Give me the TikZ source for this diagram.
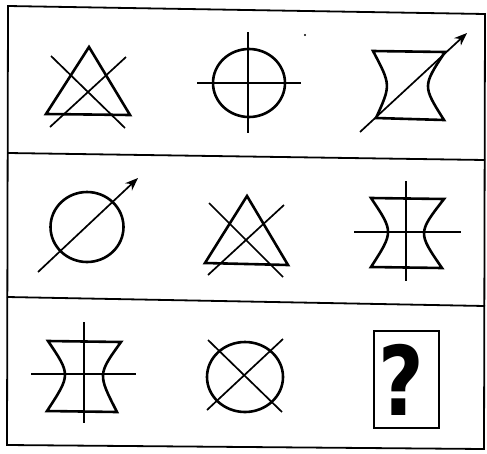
\documentclass[tikz,border=0pt]{standalone}
\usepackage{fontspec}
\setmainfont{Liberation Sans}
\newfontfamily\qfont{DejaVu Sans}
\usetikzlibrary{arrows.meta}
\begin{document}
\begin{tikzpicture}[x=1pt,y=-1pt,
  frame/.style={line width=1.8pt},
  thickline/.style={line width=2.6pt, line join=miter},
  thinline/.style={line width=1.7pt},
  arrowline/.style={line width=1.7pt, -{Stealth[length=13pt,width=10pt]}}]
\useasboundingbox (0,0) rectangle (487,453);
% frame
\draw[frame] (8,6) -- (485,14) -- (484,449) -- (7,445) -- cycle;
\draw[frame] (8,153) -- (485,160);
\draw[frame] (7,297) -- (485,306);
% speck
\fill (305,35) circle (1.1);
% row 1, cell 1: triangle with cross
\draw[thickline] (89,47) -- (130,115) -- (46,114) -- cycle;
\draw[thinline] (51,56) -- (125,128);
\draw[thinline] (126,57) -- (50,127);
% row 1, cell 2: circle with plus
\draw[thickline] (249,83) ellipse (36 and 34);
\draw[thinline] (197,83) -- (301,83);
\draw[thinline] (248,32) -- (248,133);
% row 1, cell 3: hourglass with arrow
\draw[thickline] (373,51) -- (445,52) .. controls (422.5,86) .. (444,120) -- (376,118) .. controls (391,85) .. cycle;
\draw[arrowline] (360,132) -- (467,33);
% row 2, cell 1: circle with arrow
\draw[thickline] (87,227) ellipse (36.5 and 35);
\draw[arrowline] (38,272) -- (138,178);
% row 2, cell 2: triangle with cross
\draw[thickline] (247,196) -- (288,265) -- (205,263) -- cycle;
\draw[thinline] (209,203) -- (283,277);
\draw[thinline] (284,205) -- (208,275);
% row 2, cell 3: hourglass with plus
\draw[thickline] (371,198) -- (444,199) .. controls (417.7,232.8) .. (442,268) -- (371,267) .. controls (393.7,231.8) .. cycle;
\draw[thinline] (406,181) -- (406,281);
\draw[thinline] (354,232) -- (461,232);
% row 3, cell 1: hourglass with plus
\draw[thickline] (48,341) -- (121,342) .. controls (97.7,374.3) .. (117,412) -- (47,411) .. controls (70.8,374.7) .. cycle;
\draw[thinline] (84,322) -- (84,423);
\draw[thinline] (31,374) -- (136,374);
% row 3, cell 2: circle with cross
\draw[thickline] (245,377) ellipse (38 and 35);
\draw[thinline] (208,340) -- (282,412);
\draw[thinline] (283,339) -- (207,410);
% row 3, cell 3: question box
\draw[line width=2.4pt] (374,331) rectangle (439,428);
\node[inner sep=0pt, anchor=base] (q) at (401,415) {\scalebox{0.82}[1]{\qfont\bfseries\fontsize{96}{96}\selectfont ?}};
\end{tikzpicture}
\end{document}
